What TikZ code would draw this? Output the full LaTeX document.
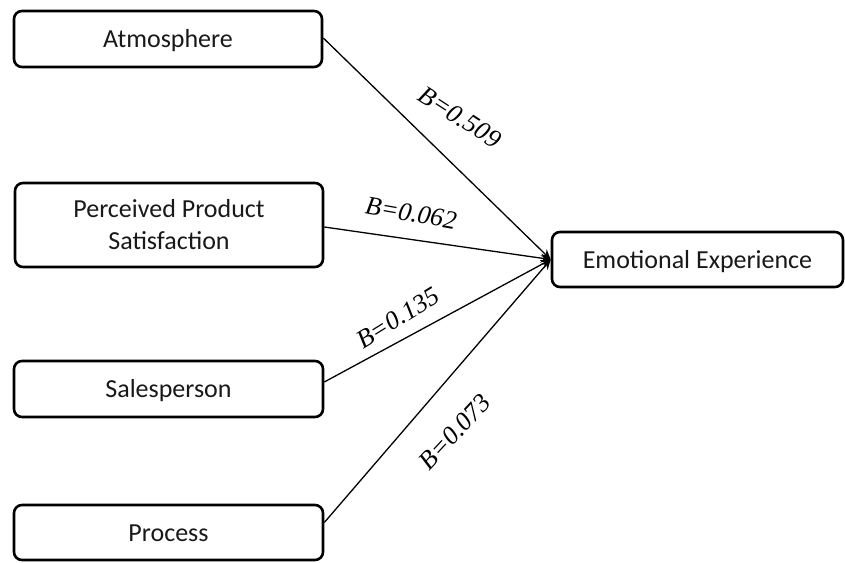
\documentclass[tikz,border=0pt]{standalone}
\usepackage{fontspec}
\setmainfont{Carlito}
\newfontfamily\coeffont{Liberation Serif}
\usetikzlibrary{arrows.meta}
\begin{document}
\begin{tikzpicture}[x=1pt,y=-1pt,
  factor/.style={draw=black, line width=2.6pt, rounded corners=8pt, fill=white,
    align=center, inner sep=0pt, font=\fontsize{26}{32}\selectfont, text=black!90},
  oneline/.style={factor, text height=17pt, text depth=0pt},
  path link/.style={draw=black, line width=1.3pt,
    -{Stealth[length=10pt,width=9pt]}},
  coef/.style={font=\coeffont\itshape\fontsize{26}{28}\selectfont, inner sep=0pt}]
\useasboundingbox (0,0) rectangle (845,562);

% predictor constructs
\node[oneline, minimum width=308pt, minimum height=56pt] (atm) at (168,39) {Atmosphere};
\node[factor, minimum width=308pt, minimum height=84pt] (pps) at (169,225) {Perceived Product\\Satisfaction};
\node[oneline, minimum width=309pt, minimum height=56pt] (sal) at (168.5,389) {Salesperson};
\node[oneline, minimum width=309pt, minimum height=55pt] (pro) at (168.5,532.5) {Process};

% outcome construct
\node[oneline, minimum width=291pt, minimum height=55pt] (emo) at (697.5,259.5) {Emotional Experience};

% structural paths
\draw[path link] ([yshift=1pt]atm.east) -- (emo.west);
\draw[path link] ([yshift=-2pt]pps.east) -- (emo.west);
\draw[path link] ([yshift=7pt]sal.east) -- (emo.west);
\draw[path link] ([yshift=10pt]pro.east) -- (emo.west);

% path coefficients
\node[coef, rotate=-33] (c1) at (460,117) {B=0.509};
\node[coef, rotate=-10] (c2) at (411,213) {B=0.062};
\node[coef, rotate=32] (c3) at (398,318) {B=0.135};
\node[coef, rotate=47] (c4) at (455,432) {B=0.073};
\end{tikzpicture}
\end{document}
